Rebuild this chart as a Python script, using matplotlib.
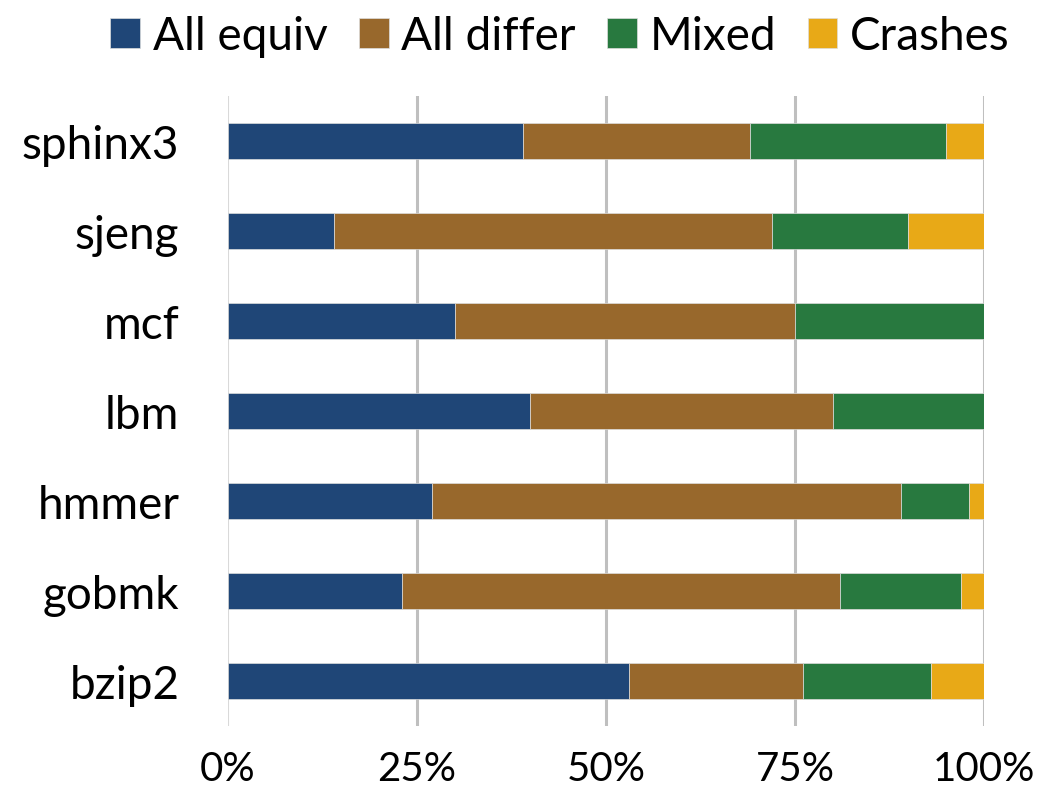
import matplotlib
matplotlib.use('Agg')
import matplotlib.pyplot as plt
import numpy as np

plt.rcParams['font.family'] = ['Lato', 'DejaVu Sans']

benchmarks = ['bzip2', 'gobmk', 'hmmer', 'lbm', 'mcf', 'sjeng', 'sphinx3']
all_equiv = [53, 23, 27, 40, 30, 14, 39]
all_differ = [23, 58, 62, 40, 45, 58, 30]
mixed = [17, 16, 9, 20, 25, 18, 26]
crashes = [7, 3, 2, 0, 0, 10, 5]

series = [('All equiv', all_equiv, '#1F4677'),
          ('All differ', all_differ, '#98682C'),
          ('Mixed', mixed, '#28793F'),
          ('Crashes', crashes, '#E8A917')]

fig = plt.figure(figsize=(10.38, 8.04), dpi=100)
ax = fig.add_axes([0.2197, 0.0958, 0.7283, 0.7836])

y = np.arange(len(benchmarks))
left = np.zeros(len(benchmarks))
for name, vals, col in series:
    vals = np.array(vals, dtype=float)
    ax.barh(y, vals, left=left, height=0.4, color=col, label=name,
            edgecolor='#dddddd', linewidth=0.5, zorder=3)
    left += vals

ax.set_xlim(0, 100)
ax.set_ylim(-0.5, 6.5)
ax.set_xticks([0, 25, 50, 75, 100])
ax.set_xticklabels(['0%', '25%', '50%', '75%', '100%'])
ax.set_yticks(y)
ax.set_yticklabels(benchmarks)
ax.tick_params(axis='both', length=0)
ax.tick_params(axis='x', pad=17, labelsize=29)
ax.tick_params(axis='y', pad=35, labelsize=33)
for s in ax.spines.values():
    s.set_visible(False)
for xv in [25, 50, 75, 100]:
    ax.axvline(xv, color='#BFBFBF', linewidth=2.2, zorder=1)
ax.axvline(0, color='#D9D9D9', linewidth=1.5, zorder=1)

handles, labels = ax.get_legend_handles_labels()
fig.legend(handles, labels, loc='center', bbox_to_anchor=(560 / 1038, 1 - 37 / 804),
           ncol=4, frameon=False, fontsize=33, handlelength=0.65, handleheight=0.65,
           handletextpad=0.28, columnspacing=0.68, borderaxespad=0)

fig.savefig('out.png', dpi=100)
